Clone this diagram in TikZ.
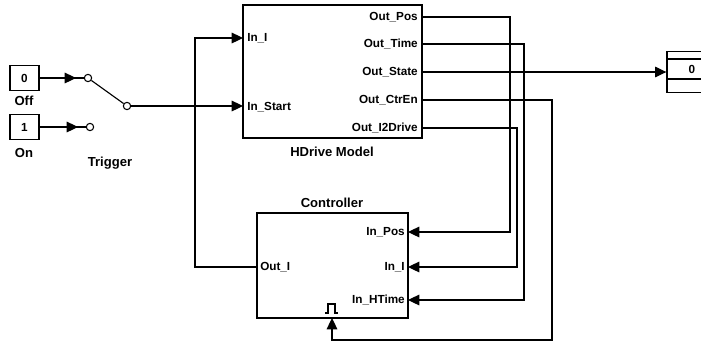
\documentclass[tikz,border=0pt]{standalone}
\usepackage{fontspec}
\setmainfont{Liberation Sans}
\usetikzlibrary{arrows.meta}
\begin{document}
\begin{tikzpicture}[x=0.75pt,y=-0.75pt,
  blk/.style={draw, line width=1pt, inner sep=0pt},
  wire/.style={line width=0.85pt},
  arr/.style={wire,-{Triangle[length=8.5pt,width=8pt]}},
  prt/.style={font=\fontsize{8.8}{10}\selectfont\bfseries, inner sep=0pt},
  lbl/.style={font=\fontsize{9.8}{12}\selectfont\bfseries, inner sep=0pt},
  pin/.style={circle, draw, line width=0.8pt, inner sep=0pt, minimum size=5.5pt}]
\clip (0,0) rectangle (701,344);
\fill[white] (0,0) rectangle (701,344);

% constants and switch
\node[blk, minimum width=21.75pt, minimum height=19pt, prt] (c0) at (24.5,78) {0};
\node[blk, minimum width=21.75pt, minimum height=19pt, prt] (c1) at (24.5,127) {1};
\node[lbl] (off) at (24,101) {Off};
\node[lbl] (on) at (24,153) {On};
\node[lbl] (trig) at (110,163) {Trigger};
\node[pin] (p0) at (88,78) {};
\node[pin] (p1) at (90,127) {};
\node[pin] (pout) at (127,106) {};
\coordinate (a0) at (76,78);
\coordinate (a1) at (78,127);
\draw[wire] (c0.east) -- (p0);
\draw[arr] (c0.east) -- (a0);
\draw[wire] (c1.east) -- (p1);
\draw[arr] (c1.east) -- (a1);
\draw[wire] (p0) -- (pout);

% HDrive model
\node[blk, minimum width=134.25pt, minimum height=99.75pt] (hd) at (332.5,71.5) {};
\node[lbl] (hdl) at (332,152) {HDrive Model};
\node[prt, anchor=west] (tInI) at (247,38) {In\_I};
\node[prt, anchor=west] (tInS) at (247,107) {In\_Start};
\node[prt, anchor=east] (tPos) at (418,17) {Out\_Pos};
\node[prt, anchor=east] (tTime) at (418,44) {Out\_Time};
\node[prt, anchor=east] (tState) at (418,72) {Out\_State};
\node[prt, anchor=east] (tCtr) at (418,100) {Out\_CtrEn};
\node[prt, anchor=east] (tI2) at (418,128) {Out\_I2Drive};
\coordinate (hInI) at (243,38);
\coordinate (hInS) at (243,106);
\coordinate (hPos) at (422,17);
\coordinate (hTime) at (422,44);
\coordinate (hState) at (422,72);
\coordinate (hCtr) at (422,100);
\coordinate (hI2) at (422,128);

% Controller
\node[blk, minimum width=113.25pt, minimum height=78.75pt] (ctl) at (332.5,265.5) {};
\node[lbl] (ctll) at (332,203) {Controller};
\node[prt, anchor=east] (tcPos) at (405,232) {In\_Pos};
\node[prt, anchor=east] (tcI) at (405,267) {In\_I};
\node[prt, anchor=east] (tcH) at (405,300) {In\_HTime};
\node[prt, anchor=west] (tcO) at (260,267) {Out\_I};
\draw[line width=0.9pt] (325,313) -- (328,313) -- (328,304) -- (335,304) -- (335,313) -- (338,313);
\coordinate (cPos) at (408,232);
\coordinate (cI) at (408,267);
\coordinate (cH) at (408,300);
\coordinate (cO) at (257,267);
\coordinate (cT) at (332,318);

% display
\node[blk, minimum width=33pt, minimum height=30.75pt] (disp) at (689,72) {};
\draw[line width=0.8pt] (667,59) rectangle (712,79);
\node[prt] (dv) at (692,69.5) {0};

% wires
\draw[arr] (pout.east) -- (hInS);
\draw[arr] (cO) -- (195,267) -- (195,38) -- (hInI);
\draw[arr] (hState) -- (hState -| disp.west);
\draw[arr] (hPos) -- (510,17) -- (510,232) -- (cPos);
\draw[arr] (hI2) -- (517,128) -- (517,267) -- (cI);
\draw[arr] (hTime) -- (524,44) -- (524,300) -- (cH);
\draw[arr] (hCtr) -- (552,100) -- (552,340) -- (332,340) -- (cT);
\end{tikzpicture}
\end{document}
